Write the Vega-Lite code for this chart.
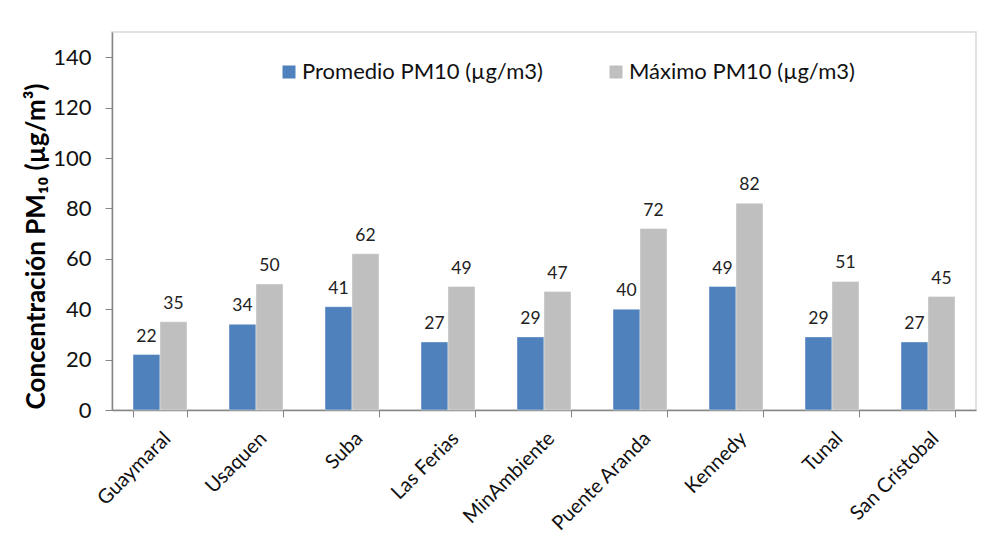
{
  "$schema": "https://vega.github.io/schema/vega-lite/v6.json",
  "width": 864,
  "height": 378,
  "autosize": {"type": "none"},
  "padding": {"left": 112, "top": 32, "right": 10, "bottom": 131},
  "background": "white",
  "config": {
    "font": "Lato",
    "view": {"stroke": "#d9d9d9", "strokeWidth": 1.5}
  },
  "data": {
    "values": [
      {"estacion": "Guaymaral", "serie": "Promedio PM10 (µg/m3)", "valor": 22},
      {"estacion": "Guaymaral", "serie": "Máximo PM10 (µg/m3)", "valor": 35},
      {"estacion": "Usaquen", "serie": "Promedio PM10 (µg/m3)", "valor": 34},
      {"estacion": "Usaquen", "serie": "Máximo PM10 (µg/m3)", "valor": 50},
      {"estacion": "Suba", "serie": "Promedio PM10 (µg/m3)", "valor": 41},
      {"estacion": "Suba", "serie": "Máximo PM10 (µg/m3)", "valor": 62},
      {"estacion": "Las Ferias", "serie": "Promedio PM10 (µg/m3)", "valor": 27},
      {"estacion": "Las Ferias", "serie": "Máximo PM10 (µg/m3)", "valor": 49},
      {"estacion": "MinAmbiente", "serie": "Promedio PM10 (µg/m3)", "valor": 29},
      {"estacion": "MinAmbiente", "serie": "Máximo PM10 (µg/m3)", "valor": 47},
      {"estacion": "Puente Aranda", "serie": "Promedio PM10 (µg/m3)", "valor": 40},
      {"estacion": "Puente Aranda", "serie": "Máximo PM10 (µg/m3)", "valor": 72},
      {"estacion": "Kennedy", "serie": "Promedio PM10 (µg/m3)", "valor": 49},
      {"estacion": "Kennedy", "serie": "Máximo PM10 (µg/m3)", "valor": 82},
      {"estacion": "Tunal", "serie": "Promedio PM10 (µg/m3)", "valor": 29},
      {"estacion": "Tunal", "serie": "Máximo PM10 (µg/m3)", "valor": 51},
      {"estacion": "San Cristobal", "serie": "Promedio PM10 (µg/m3)", "valor": 27},
      {"estacion": "San Cristobal", "serie": "Máximo PM10 (µg/m3)", "valor": 45}
    ]
  },
  "encoding": {
    "x": {
      "field": "estacion",
      "type": "nominal",
      "sort": null,
      "scale": {"paddingInner": 0.4375, "paddingOuter": 0.21875},
      "axis": {
        "title": null,
        "labelAngle": -45,
        "labelAlign": "right",
        "labelBaseline": "top",
        "labelFontSize": 20,
        "labelColor": "#111111",
        "labelPadding": 11,
        "tickBand": "extent",
        "tickSize": 7,
        "tickColor": "#868686",
        "domainColor": "#868686",
        "domainWidth": 1.5
      }
    },
    "xOffset": {
      "field": "serie",
      "type": "nominal",
      "sort": ["Promedio PM10 (µg/m3)", "Máximo PM10 (µg/m3)"],
      "scale": {"paddingInner": 0, "paddingOuter": 0}
    },
    "y": {
      "field": "valor",
      "type": "quantitative",
      "scale": {"domain": [0, 150], "nice": false},
      "axis": {
        "title": "Concentración PM₁₀ (µg/m³)",
        "titleFontSize": 26,
        "titleFontWeight": "bold",
        "titleColor": "#000000",
        "titleAngle": -90,
        "titleAlign": "center",
        "titleBaseline": "alphabetic",
        "titleX": -68,
        "titleY": 214,
        "values": [0, 20, 40, 60, 80, 100, 120, 140],
        "grid": false,
        "labelFontSize": 22,
        "labelColor": "#111111",
        "labelPadding": 14,
        "tickSize": 7,
        "tickColor": "#868686",
        "domainColor": "#868686",
        "domainWidth": 1.5
      }
    }
  },
  "layer": [
    {
      "mark": {"type": "bar", "stroke": "#ffffff", "strokeOpacity": 0.5, "strokeWidth": 0.8},
      "encoding": {
        "color": {
          "field": "serie",
          "type": "nominal",
          "scale": {
            "domain": ["Promedio PM10 (µg/m3)", "Máximo PM10 (µg/m3)"],
            "range": ["#4f81bd", "#bfbfbf"]
          },
          "legend": {
            "title": null,
            "orient": "none",
            "direction": "horizontal",
            "legendX": 166,
            "legendY": 29,
            "padding": 0,
            "symbolType": "square",
            "symbolSize": 169,
            "symbolStrokeWidth": 0,
            "labelFontSize": 22,
            "labelColor": "#111111",
            "labelOffset": 2,
            "columnPadding": 62,
            "labelLimit": 400
          }
        }
      }
    },
    {
      "mark": {"type": "text", "baseline": "alphabetic", "dy": -13, "fontSize": 17.5, "color": "#222222"},
      "encoding": {
        "text": {"field": "valor", "type": "quantitative"}
      }
    }
  ]
}
